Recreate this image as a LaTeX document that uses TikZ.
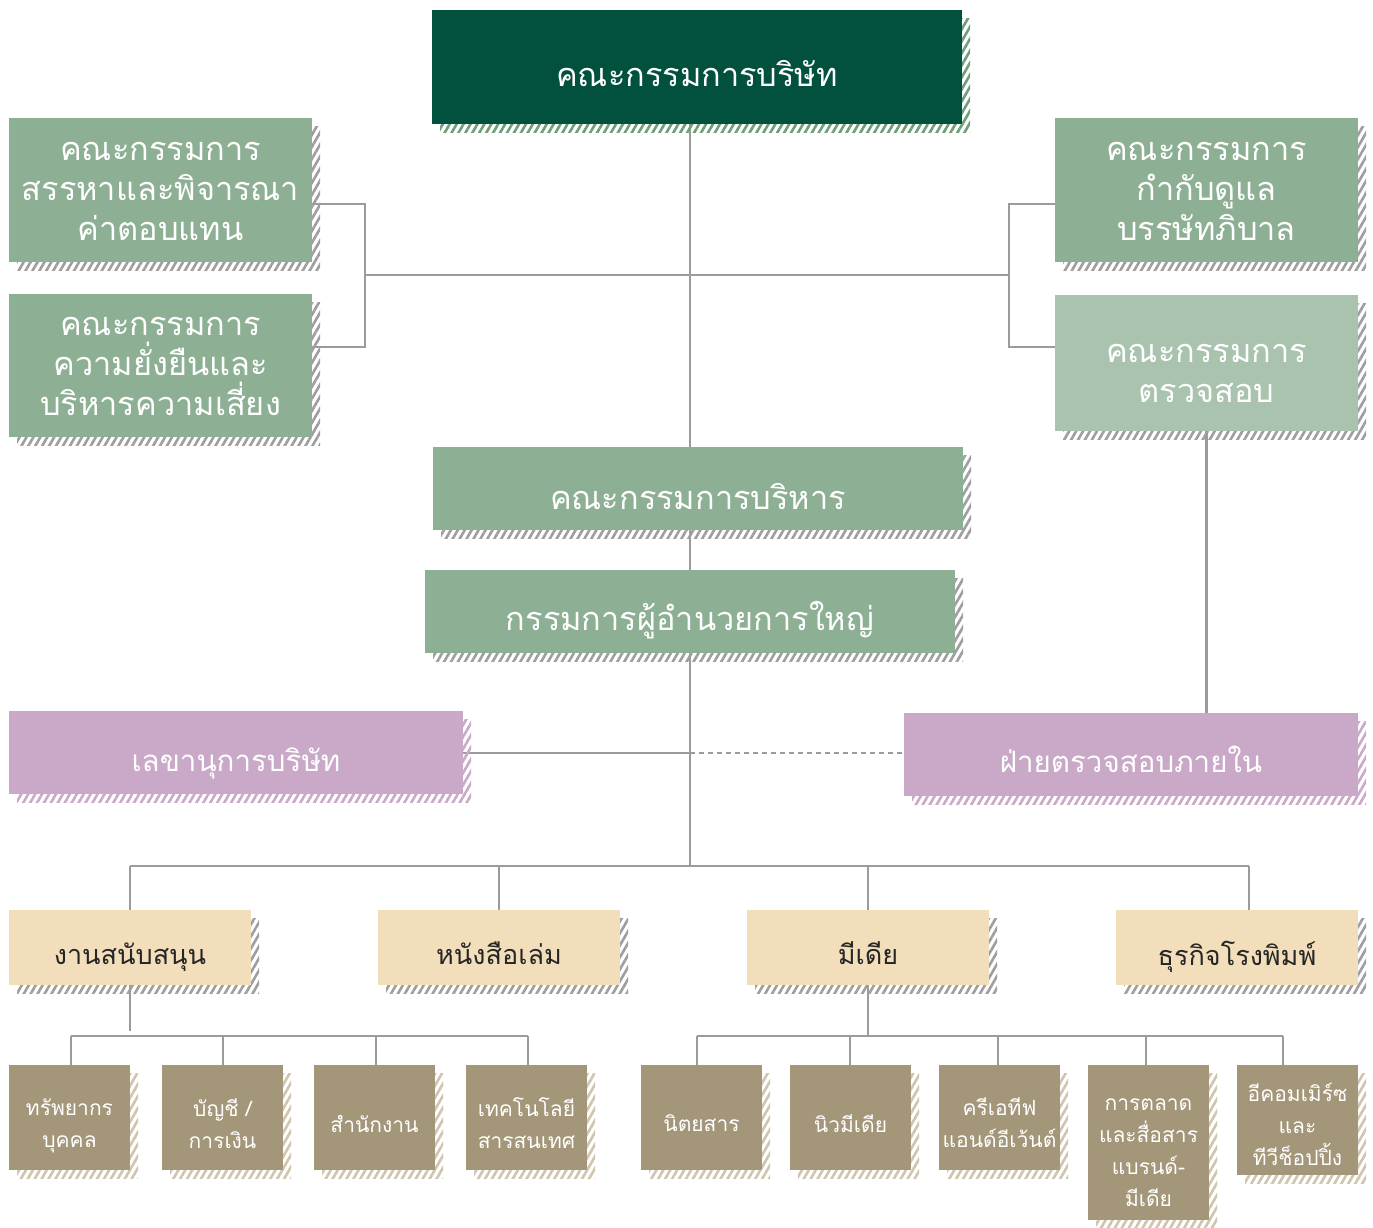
\documentclass[tikz,border=0pt]{standalone}
\usepackage{fontspec}
\newfontfamily\thaifont[Script=Thai]{Loma}
\usetikzlibrary{patterns.meta,backgrounds}
\definecolor{dkgreen}{HTML}{02513F}
\definecolor{mgreen}{HTML}{8DB094}
\definecolor{lgreen}{HTML}{A9C3AE}
\definecolor{purp}{HTML}{C9A9C7}
\definecolor{yel}{HTML}{F2DEBA}
\definecolor{brn}{HTML}{A39679}
\definecolor{hgreen}{HTML}{6E9E78}
\definecolor{hgray}{HTML}{9E9E9E}
\definecolor{htan}{HTML}{CFC5AF}
\definecolor{linec}{HTML}{9B9B9B}
\definecolor{txtdark}{HTML}{262626}
\newcommand\fbig{\thaifont\fontsize{32.5}{40}\selectfont}
\newcommand\fpurp{\thaifont\fontsize{29.5}{40}\selectfont}
\newcommand\fmid{\thaifont\fontsize{27}{34}\selectfont}
\newcommand\fsmall{\thaifont\fontsize{21}{32}\selectfont}
\tikzset{
  boxshape/.style={rectangle, inner sep=0pt},
  bigtxt/.style={inner sep=0pt, align=center, text=white, font=\fbig},
  purptxt/.style={inner sep=0pt, align=center, text=white, font=\fpurp},
  midtxt/.style={inner sep=0pt, align=center, text=txtdark, font=\fmid},
  smalltxt/.style={inner sep=0pt, align=center, text=white, font=\fsmall},
  ln/.style={draw=linec, line width=2.2pt},
}
% #1 name, #2 x1, #3 y1, #4 x2, #5 y2, #6 fill, #7 hatch colour, #8 text style, #9 text (shift via \tshift)
\newcommand\tshift{0}
\newcommand\obox[9]{%
  \fill[pattern={Lines[angle=60,distance=6pt,line width=2.6pt]},pattern color=#7] ({#2+8},{#3+8}) rectangle ({#4+8},{#5+8});
  \node[boxshape, fill=#6, minimum width={(#4-#2)*1pt}, minimum height={(#5-#3)*1pt}] (#1) at ({(#2+#4)/2},{(#3+#5)/2}) {};
  \node[#8] (#1-t) at ([yshift=-\tshift pt]#1.center) {#9};
}
\begin{document}
\begin{tikzpicture}[x=1pt,y=-1pt]
\useasboundingbox (0,0) rectangle (1373,1227);
\renewcommand\tshift{7}\obox{top}{432}{10}{962}{124}{dkgreen}{hgreen}{bigtxt}{คณะกรรมการบริษัท}
\renewcommand\tshift{1}\obox{nom}{9}{118}{312}{262}{mgreen}{hgray}{bigtxt}{คณะกรรมการ\\สรรหาและพิจารณา\\ค่าตอบแทน}
\renewcommand\tshift{1}\obox{sus}{9}{294}{312}{437}{mgreen}{hgray}{bigtxt}{คณะกรรมการ\\ความยั่งยืนและ\\บริหารความเสี่ยง}
\renewcommand\tshift{1}\obox{gov}{1055}{118}{1358}{262}{mgreen}{hgray}{bigtxt}{คณะกรรมการ\\กำกับดูแล\\บรรษัทภิบาล}
\renewcommand\tshift{10}\obox{aud}{1055}{295}{1358}{431}{lgreen}{hgray}{bigtxt}{คณะกรรมการ\\ตรวจสอบ}
\renewcommand\tshift{8}\obox{exe}{433}{447}{963}{530}{mgreen}{hgray}{bigtxt}{คณะกรรมการบริหาร}
\renewcommand\tshift{9}\obox{ceo}{425}{570}{955}{653}{mgreen}{hgray}{bigtxt}{กรรมการผู้อำนวยการใหญ่}
\renewcommand\tshift{11}\obox{sec}{9}{711}{463}{794}{purp}{purp}{purptxt}{เลขานุการบริษัท}
\renewcommand\tshift{5}\obox{ia}{904}{713}{1358}{796}{purp}{purp}{purptxt}{ฝ่ายตรวจสอบภายใน}
\renewcommand\tshift{10}\obox{ya}{9}{910}{251}{985}{yel}{hgray}{midtxt}{งานสนับสนุน}
\renewcommand\tshift{6}\obox{yb}{378}{910}{620}{985}{yel}{hgray}{midtxt}{หนังสือเล่ม}
\renewcommand\tshift{6}\obox{yc}{747}{910}{989}{985}{yel}{hgray}{midtxt}{มีเดีย}
\renewcommand\tshift{9}\obox{yd}{1116}{910}{1358}{985}{yel}{hgray}{midtxt}{ธุรกิจโรงพิมพ์}
\renewcommand\tshift{8}\obox{sa}{9}{1065}{130}{1170}{brn}{htan}{smalltxt}{ทรัพยากร\\บุคคล}
\renewcommand\tshift{6}\obox{sb}{162}{1065}{283}{1170}{brn}{htan}{smalltxt}{บัญชี /\\การเงิน}
\renewcommand\tshift{6}\obox{sc}{314}{1065}{435}{1170}{brn}{htan}{smalltxt}{สำนักงาน}
\renewcommand\tshift{6}\obox{sd}{466}{1065}{587}{1170}{brn}{htan}{smalltxt}{เทคโนโลยี\\สารสนเทศ}
\renewcommand\tshift{6}\obox{ma}{641}{1065}{762}{1170}{brn}{htan}{smalltxt}{นิตยสาร}
\renewcommand\tshift{6}\obox{mb}{790}{1065}{911}{1170}{brn}{htan}{smalltxt}{นิวมีเดีย}
\renewcommand\tshift{5}\obox{mc}{939}{1065}{1060}{1170}{brn}{htan}{smalltxt}{ครีเอทีฟ\\แอนด์อีเว้นต์}
\renewcommand\tshift{10}\obox{md}{1088}{1065}{1209}{1220}{brn}{htan}{smalltxt}{การตลาด\\และสื่อสาร\\แบรนด์-\\มีเดีย}
\renewcommand\tshift{4}\obox{me}{1237}{1065}{1358}{1175}{brn}{htan}{smalltxt}{อีคอมเมิร์ซ\\และ\\ทีวีช็อปปิ้ง}
\begin{scope}[on background layer]
  \fill[white] (0,0) rectangle (1373,1227);
  \coordinate (trunk) at (690,0);
  \coordinate (hl) at (365,275);
  \coordinate (hr) at (1009,275);
  \coordinate (lbt) at (365,204);
  \coordinate (lbb) at (365,347);
  \coordinate (rbt) at (1009,204);
  \coordinate (rbb) at (1009,347);
  \coordinate (sl) at (690,753);
  \coordinate (busa) at (690,866);
  \coordinate (da) at (130,866);
  \coordinate (db) at (499,866);
  \coordinate (dc) at (868,866);
  \coordinate (dd) at (1249,866);
  \coordinate (stl) at (130,1031);
  \coordinate (ea) at (71,1036);
  \coordinate (eb) at (223,1036);
  \coordinate (ec) at (376,1036);
  \coordinate (ed) at (528,1036);
  \coordinate (str) at (868,1036);
  \coordinate (fa) at (697,1036);
  \coordinate (fb) at (850,1036);
  \coordinate (fc) at (998,1036);
  \coordinate (fd) at (1146,1036);
  \coordinate (fe) at (1283,1036);
  \draw[ln] (top.south -| trunk) -- (exe.north -| trunk);
  \draw[ln] (exe.south -| trunk) -- (ceo.north -| trunk);
  \draw[ln] (ceo.south -| trunk) -- (busa);
  \draw[ln] (hl) -- (hr);
  \draw[ln] (nom.east |- lbt) -- (lbt) -- (lbb) -- (sus.east |- lbb);
  \draw[ln] (gov.west |- rbt) -- (rbt) -- (rbb) -- (aud.west |- rbb);
  \draw[ln] (aud.south) -- (aud.south |- ia.north);
  \draw[ln] (sec.east |- sl) -- (sl);
  \draw[ln, dash pattern=on 5pt off 4pt] (sl) -- (ia.west |- sl);
  \draw[ln] (da) -- (dd);
  \draw[ln] (da) -- (da |- ya.north);
  \draw[ln] (db) -- (db |- yb.north);
  \draw[ln] (dc) -- (dc |- yc.north);
  \draw[ln] (dd) -- (dd |- yd.north);
  \draw[ln] (ya.south) -- (stl);
  \draw[ln] (ea) -- (ed);
  \draw[ln] (ea) -- (ea |- sa.north);
  \draw[ln] (eb) -- (eb |- sb.north);
  \draw[ln] (ec) -- (ec |- sc.north);
  \draw[ln] (ed) -- (ed |- sd.north);
  \draw[ln] (yc.south) -- (str);
  \draw[ln] (fa) -- (fe);
  \draw[ln] (fa) -- (fa |- ma.north);
  \draw[ln] (fb) -- (fb |- mb.north);
  \draw[ln] (fc) -- (fc |- mc.north);
  \draw[ln] (fd) -- (fd |- md.north);
  \draw[ln] (fe) -- (fe |- me.north);
\end{scope}
\end{tikzpicture}
\end{document}
